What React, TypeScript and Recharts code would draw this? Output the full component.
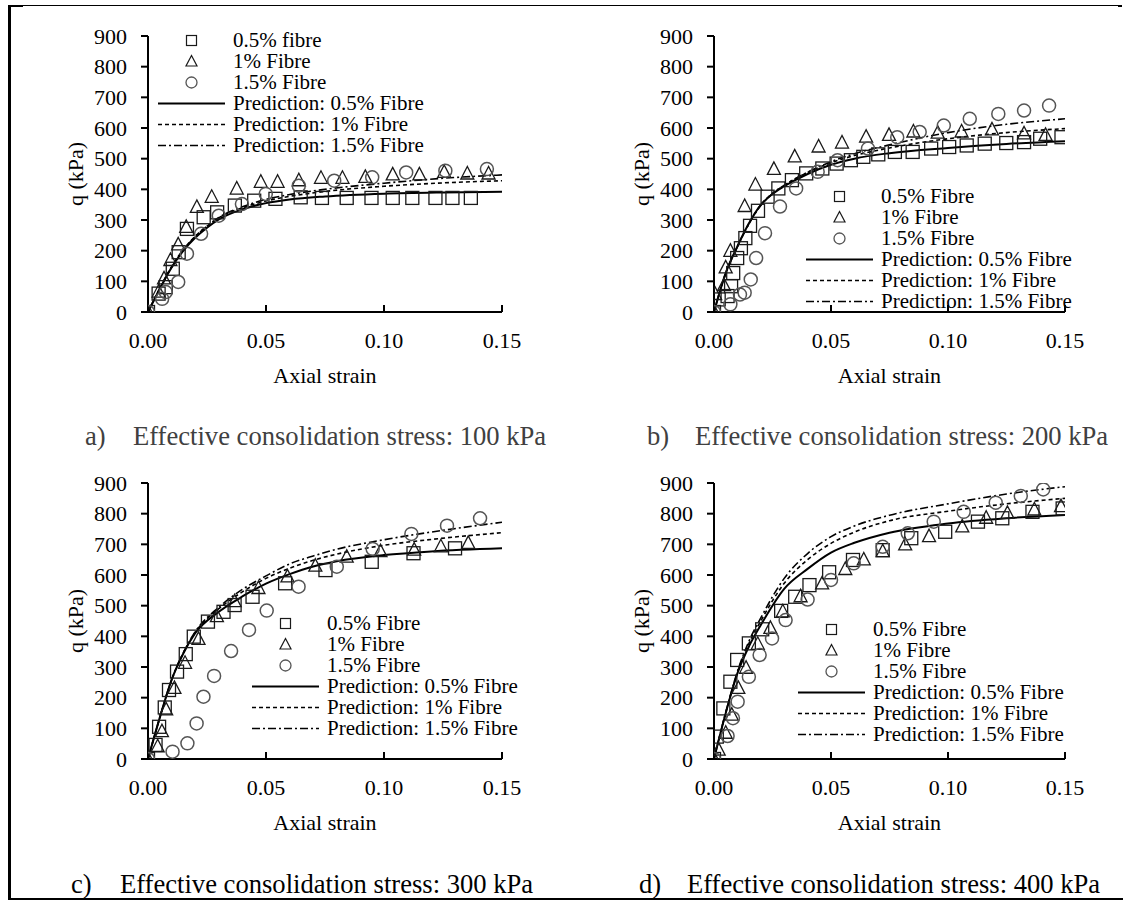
import { ComposedChart, Scatter, Line, XAxis, YAxis, Legend } from 'recharts';

const FONT = '"Liberation Serif", "Times New Roman", serif';

// [axial strain, q (kPa)]
type Pt = [number, number];

// a) 100 kPa
const aFibre05: Pt[] = [[0, 0], [0.0045, 60], [0.0075, 81], [0.0105, 141], [0.013, 195], [0.0165, 271], [0.0236, 309], [0.0293, 325], [0.0368, 347], [0.045, 363], [0.054, 369], [0.0647, 374], [0.0737, 372], [0.0842, 372], [0.0947, 372], [0.1037, 372], [0.112, 372], [0.1218, 372], [0.129, 372], [0.1368, 372]];
const aFibre1: Pt[] = [[0, 0], [0.0045, 65], [0.0068, 108], [0.0095, 168], [0.0128, 219], [0.0162, 276], [0.0207, 341], [0.027, 374], [0.0376, 401], [0.0478, 423], [0.0549, 423], [0.0639, 428], [0.0733, 436], [0.0824, 436], [0.0921, 439], [0.1037, 447], [0.115, 447], [0.1255, 455], [0.1353, 450], [0.1443, 450]];
const aFibre15: Pt[] = [[0, 0], [0.006, 43], [0.0075, 65], [0.0128, 98], [0.0165, 190], [0.0225, 255], [0.03, 314], [0.0398, 352], [0.0499, 385], [0.0639, 412], [0.0789, 428], [0.095, 439], [0.1094, 455], [0.126, 461], [0.1436, 466]];
const aPred05: Pt[] = [[0, 0], [0.005, 75], [0.01, 145], [0.015, 200], [0.02, 242], [0.025, 275], [0.03, 302], [0.04, 335], [0.05, 355], [0.06, 367], [0.075, 377], [0.1, 386], [0.125, 390], [0.15, 392]];
const aPred1: Pt[] = [[0, 0], [0.005, 78], [0.01, 148], [0.015, 204], [0.02, 247], [0.025, 280], [0.03, 307], [0.04, 340], [0.05, 362], [0.06, 377], [0.075, 393], [0.1, 410], [0.125, 421], [0.15, 428]];
const aPred15: Pt[] = [[0, 0], [0.005, 76], [0.01, 146], [0.015, 202], [0.02, 246], [0.025, 280], [0.03, 308], [0.04, 343], [0.05, 367], [0.06, 383], [0.075, 400], [0.1, 420], [0.125, 436], [0.15, 447]];

// b) 200 kPa
const bFibre05: Pt[] = [[0, 0], [0.002, 41], [0.0058, 52], [0.0073, 84], [0.0082, 127], [0.0099, 176], [0.0115, 208], [0.0134, 241], [0.0154, 281], [0.0188, 330], [0.0229, 376], [0.0275, 403], [0.0333, 430], [0.0394, 452], [0.0463, 468], [0.0524, 484], [0.0585, 495], [0.0638, 506], [0.0702, 514], [0.0773, 522], [0.0849, 522], [0.0928, 533], [0.1005, 538], [0.108, 543], [0.1157, 549], [0.1249, 551], [0.1325, 554], [0.1394, 565], [0.1485, 570]];
const bFibre1: Pt[] = [[0, 0], [0.0005, 57], [0.0043, 86], [0.005, 144], [0.007, 198], [0.0131, 344], [0.0177, 414], [0.0256, 465], [0.0345, 506], [0.0447, 538], [0.0547, 551], [0.065, 570], [0.0748, 576], [0.0852, 587], [0.0956, 583], [0.1058, 587], [0.1188, 594], [0.1325, 581], [0.1417, 576]];
const bFibre15: Pt[] = [[0, 0], [0.007, 25], [0.0111, 57], [0.0131, 63], [0.0157, 106], [0.018, 176], [0.0218, 257], [0.0282, 344], [0.0351, 403], [0.0443, 457], [0.0528, 495], [0.0658, 533], [0.0783, 570], [0.0879, 587], [0.0982, 608], [0.1093, 630], [0.1215, 646], [0.1325, 657], [0.1432, 673]];
const bPred05: Pt[] = [[0, 0], [0.005, 127], [0.01, 214], [0.015, 290], [0.02, 349], [0.025, 385], [0.03, 410], [0.04, 450], [0.05, 480], [0.06, 500], [0.075, 518], [0.1, 535], [0.125, 548], [0.15, 557]];
const bPred1: Pt[] = [[0, 0], [0.005, 127], [0.01, 214], [0.015, 290], [0.02, 349], [0.025, 387], [0.03, 413], [0.04, 455], [0.05, 487], [0.06, 510], [0.075, 535], [0.1, 565], [0.125, 585], [0.15, 598]];
const bPred15: Pt[] = [[0, 0], [0.005, 125], [0.01, 212], [0.015, 288], [0.02, 347], [0.025, 386], [0.03, 413], [0.04, 456], [0.05, 490], [0.06, 516], [0.075, 545], [0.1, 585], [0.125, 612], [0.15, 630]];

// c) 300 kPa
const cFibre05: Pt[] = [[0, 0], [0.0032, 46], [0.0047, 105], [0.0071, 168], [0.0089, 225], [0.0123, 285], [0.016, 342], [0.0194, 399], [0.0254, 448], [0.032, 480], [0.0367, 502], [0.0443, 529], [0.0581, 573], [0.0752, 616], [0.0948, 643], [0.1125, 671], [0.1301, 687]];
const cFibre1: Pt[] = [[0, 0], [0.0041, 40], [0.0059, 89], [0.0077, 160], [0.0112, 230], [0.0157, 312], [0.0214, 390], [0.0292, 464], [0.0367, 513], [0.0468, 556], [0.0591, 594], [0.0709, 629], [0.0842, 658], [0.0985, 676], [0.1128, 681], [0.1241, 692], [0.1357, 703]];
const cFibre15: Pt[] = [[0, 0], [0.0104, 24], [0.0167, 51], [0.0206, 116], [0.0235, 203], [0.028, 271], [0.0352, 352], [0.0428, 421], [0.0503, 484], [0.0638, 562], [0.08, 627], [0.0952, 685], [0.1116, 734], [0.1267, 761], [0.1407, 785]];
const cPred05: Pt[] = [[0, 0], [0.005, 135], [0.01, 258], [0.015, 345], [0.02, 410], [0.03, 480], [0.04, 530], [0.05, 572], [0.06, 603], [0.07, 628], [0.08, 645], [0.1, 665], [0.12, 677], [0.15, 687]];
const cPred1: Pt[] = [[0, 0], [0.005, 135], [0.01, 258], [0.015, 346], [0.02, 413], [0.03, 490], [0.04, 545], [0.05, 589], [0.06, 622], [0.07, 648], [0.08, 668], [0.1, 697], [0.12, 716], [0.15, 738]];
const cPred15: Pt[] = [[0, 0], [0.005, 135], [0.01, 258], [0.015, 347], [0.02, 415], [0.03, 495], [0.04, 553], [0.05, 597], [0.06, 636], [0.07, 662], [0.08, 684], [0.1, 715], [0.12, 740], [0.15, 772]];

// d) 400 kPa
const dFibre05: Pt[] = [[0, 0], [0.0012, 73], [0.004, 165], [0.007, 252], [0.0099, 323], [0.0149, 377], [0.0206, 423], [0.0287, 483], [0.0347, 529], [0.0408, 567], [0.0492, 609], [0.0594, 649], [0.0721, 681], [0.0843, 720], [0.0988, 741], [0.1128, 774], [0.1232, 785], [0.1361, 806], [0.149, 817]];
const dFibre1: Pt[] = [[0, 0], [0.002, 29], [0.005, 84], [0.0076, 143], [0.0104, 230], [0.0137, 296], [0.0187, 374], [0.0241, 426], [0.0294, 480], [0.037, 529], [0.0462, 571], [0.0561, 618], [0.064, 649], [0.0721, 676], [0.0817, 698], [0.0919, 725], [0.1061, 757], [0.1163, 785], [0.1254, 801], [0.1369, 812], [0.1483, 823]];
const dFibre15: Pt[] = [[0, 0], [0.0058, 75], [0.0081, 133], [0.0101, 187], [0.0149, 268], [0.0195, 339], [0.0248, 393], [0.0306, 453], [0.04, 520], [0.05, 584], [0.0597, 638], [0.0721, 692], [0.0828, 736], [0.0939, 774], [0.1067, 806], [0.1204, 836], [0.1311, 858], [0.1407, 879]];
const dPred05: Pt[] = [[0, 0], [0.005, 149], [0.01, 279], [0.015, 368], [0.02, 437], [0.03, 555], [0.04, 620], [0.05, 673], [0.06, 705], [0.075, 738], [0.1, 768], [0.125, 785], [0.15, 796]];
const dPred1: Pt[] = [[0, 0], [0.005, 150], [0.01, 282], [0.015, 378], [0.02, 450], [0.03, 573], [0.04, 650], [0.05, 703], [0.06, 740], [0.075, 777], [0.1, 808], [0.125, 832], [0.15, 850]];
const dPred15: Pt[] = [[0, 0], [0.005, 152], [0.01, 285], [0.015, 385], [0.02, 460], [0.03, 589], [0.04, 670], [0.05, 725], [0.06, 760], [0.075, 795], [0.1, 832], [0.125, 864], [0.15, 888]];

const xTicks = [0, 0.05, 0.1, 0.15];
const yTicks = [0, 100, 200, 300, 400, 500, 600, 700, 800, 900];

const legendNames = ['0.5% Fibre', '1% Fibre', '1.5% Fibre'];
const legendNamesA = ['0.5% fibre', '1% Fibre', '1.5% Fibre'];
const predNames = ['Prediction: 0.5% Fibre', 'Prediction: 1% Fibre', 'Prediction: 1.5% Fibre'];

const toRows = (pts: Pt[]) => pts.map(([x, y]) => ({ x, y }));

const SQ = '#1a1a1a';
const TRI = '#1a1a1a';
const CIR = '#555555';

const Square = (p: any) => (
  <rect x={p.cx - 6.5} y={p.cy - 6.5} width={13} height={13} fill="none" stroke={SQ} strokeWidth={1.3} />
);
const Triangle = (p: any) => (
  <polygon
    points={`${p.cx},${p.cy - 7.5} ${p.cx - 6.5},${p.cy + 5} ${p.cx + 6.5},${p.cy + 5}`}
    fill="none"
    stroke={TRI}
    strokeWidth={1.3}
  />
);
const Circle = (p: any) => <circle cx={p.cx} cy={p.cy} r={6.5} fill="none" stroke={CIR} strokeWidth={1.5} />;

const DASH = '4 3';
const DASHDOT = '8 3 2 3';

function LegendBox({ names }: { names: string[] }) {
  const row = { display: 'flex', alignItems: 'center', height: 21 } as const;
  const txt = { fontFamily: FONT, fontSize: 21, lineHeight: '20px', color: '#000', whiteSpace: 'nowrap' } as const;
  const markers = [
    <rect key="s" x={28.5} y={5.5} width={10} height={10} fill="none" stroke={SQ} strokeWidth={1.2} />,
    <polygon key="t" points="33.5,4.5 28,15 39,15" fill="none" stroke={TRI} strokeWidth={1.2} />,
    <circle key="c" cx={33.5} cy={10.5} r={5.5} fill="none" stroke={CIR} strokeWidth={1.3} />,
  ];
  const dashes = [undefined, DASH, DASHDOT];
  return (
    <div>
      {names.map((n, i) => (
        <div key={n} style={row}>
          <svg width={75} height={21}>{markers[i]}</svg>
          <span style={txt}>{n}</span>
        </div>
      ))}
      {predNames.map((n, i) => (
        <div key={n} style={row}>
          <svg width={75} height={21}>
            <line x1={0} x2={67} y1={10.5} y2={10.5} stroke="#000" strokeWidth={i === 0 ? 2 : 1.6} strokeDasharray={dashes[i]} />
          </svg>
          <span style={txt}>{n}</span>
        </div>
      ))}
    </div>
  );
}

interface PanelProps {
  x0: number;
  x1: number;
  y0: number;
  y1: number;
  s05: Pt[];
  s1: Pt[];
  s15: Pt[];
  p05: Pt[];
  p1: Pt[];
  p15: Pt[];
  names: string[];
  legendLeft: number;
  legendTop: number;
}

function Panel(props: PanelProps) {
  const { x0, x1, y0, y1 } = props;
  const yAxisW = 100;
  const xAxisH = 90;
  const mt = 20;
  const mr = 30;
  const left = x0 - yAxisW;
  const top = y0 - mt;
  const width = yAxisW + (x1 - x0) + mr;
  const height = mt + (y1 - y0) + xAxisH;
  const tickStyle = { fill: '#000', fontSize: 22, fontFamily: FONT };

  return (
    <div style={{ position: 'absolute', left, top }}>
      <ComposedChart width={width} height={height} margin={{ top: mt, right: mr, bottom: 0, left: 0 }}>
        <XAxis
          dataKey="x"
          type="number"
          domain={[0, 0.15]}
          ticks={xTicks}
          interval={0}
          tickFormatter={(v: number) => v.toFixed(2)}
          height={xAxisH}
          tick={tickStyle}
          tickSize={-7}
          tickMargin={27}
          stroke="#000"
          strokeWidth={2}
          allowDataOverflow
          label={{ value: 'Axial strain', position: 'insideBottom', offset: 19, style: { fill: '#000', fontSize: 22, fontFamily: FONT } }}
        />
        <YAxis
          dataKey="y"
          type="number"
          domain={[0, 900]}
          ticks={yTicks}
          interval={0}
          width={yAxisW}
          tick={tickStyle}
          tickSize={7}
          tickMargin={14}
          stroke="#000"
          strokeWidth={2}
          allowDataOverflow
          label={{ value: 'q (kPa)', angle: -90, position: 'insideLeft', offset: 27, style: { fill: '#000', fontSize: 22, fontFamily: FONT, textAnchor: 'middle' } }}
        />
        <Legend
          layout="vertical"
          align="center"
          verticalAlign="middle"
          content={() => <LegendBox names={props.names} />}
          wrapperStyle={{ left: props.legendLeft - left, top: props.legendTop - top, width: 'auto', height: 'auto' }}
        />
        <Scatter data={toRows(props.s05)} dataKey="y" shape={Square} isAnimationActive={false} />
        <Scatter data={toRows(props.s1)} dataKey="y" shape={Triangle} isAnimationActive={false} />
        <Scatter data={toRows(props.s15)} dataKey="y" shape={Circle} isAnimationActive={false} />
        <Line data={toRows(props.p05)} dataKey="y" type="monotone" stroke="#000" strokeWidth={2} dot={false} activeDot={false} isAnimationActive={false} />
        <Line data={toRows(props.p1)} dataKey="y" type="monotone" stroke="#000" strokeWidth={1.6} strokeDasharray={DASH} dot={false} activeDot={false} isAnimationActive={false} />
        <Line data={toRows(props.p15)} dataKey="y" type="monotone" stroke="#000" strokeWidth={1.6} strokeDasharray={DASHDOT} dot={false} activeDot={false} isAnimationActive={false} />
      </ComposedChart>
    </div>
  );
}

function Caption({ tag, tagLeft, left, top, color, text }: { tag: string; tagLeft: number; left: number; top: number; color: string; text: string }) {
  const st = { position: 'absolute', top, fontFamily: FONT, fontSize: 26.6, lineHeight: '26px', color, whiteSpace: 'nowrap' } as const;
  return (
    <>
      <div style={{ ...st, left: tagLeft }}>{tag}</div>
      <div style={{ ...st, left }}>{text}</div>
    </>
  );
}

export default function App() {
  return (
    <div style={{ position: 'absolute', left: 0, top: 0, width: 1123, height: 901, background: '#fff', overflow: 'hidden' }}>
      {/* frame */}
      <div style={{ position: 'absolute', left: 8, top: 5, width: 1114, height: 1, background: '#000' }} />
      <div style={{ position: 'absolute', left: 8, top: 5, width: 15, height: 2, background: '#000' }} />
      <div style={{ position: 'absolute', left: 1118, top: 5, width: 4, height: 2, background: '#000' }} />
      <div style={{ position: 'absolute', left: 8, top: 5, width: 3, height: 895, background: '#000' }} />
      <div style={{ position: 'absolute', left: 8, top: 898, width: 1115, height: 2, background: '#000' }} />

      <Panel x0={148} x1={502} y0={36} y1={312} s05={aFibre05} s1={aFibre1} s15={aFibre15} p05={aPred05} p1={aPred1} p15={aPred15} names={legendNamesA} legendLeft={158} legendTop={29.5} />
      <Panel x0={714} x1={1065} y0={36} y1={312} s05={bFibre05} s1={bFibre1} s15={bFibre15} p05={bPred05} p1={bPred1} p15={bPred15} names={legendNames} legendLeft={806} legendTop={185.5} />
      <Panel x0={148} x1={502} y0={483} y1={759} s05={cFibre05} s1={cFibre1} s15={cFibre15} p05={cPred05} p1={cPred1} p15={cPred15} names={legendNames} legendLeft={252} legendTop={612.5} />
      <Panel x0={714} x1={1065} y0={483} y1={759} s05={dFibre05} s1={dFibre1} s15={dFibre15} p05={dPred05} p1={dPred1} p15={dPred15} names={legendNames} legendLeft={798} legendTop={618.8} />

      <Caption tag="a)" tagLeft={85} left={133} top={423} color="#404040" text="Effective consolidation stress: 100 kPa" />
      <Caption tag="b)" tagLeft={647} left={695} top={423} color="#404040" text="Effective consolidation stress: 200 kPa" />
      <Caption tag="c)" tagLeft={71} left={120} top={871} color="#000" text="Effective consolidation stress: 300 kPa" />
      <Caption tag="d)" tagLeft={639} left={687} top={871} color="#000" text="Effective consolidation stress: 400 kPa" />
    </div>
  );
}
